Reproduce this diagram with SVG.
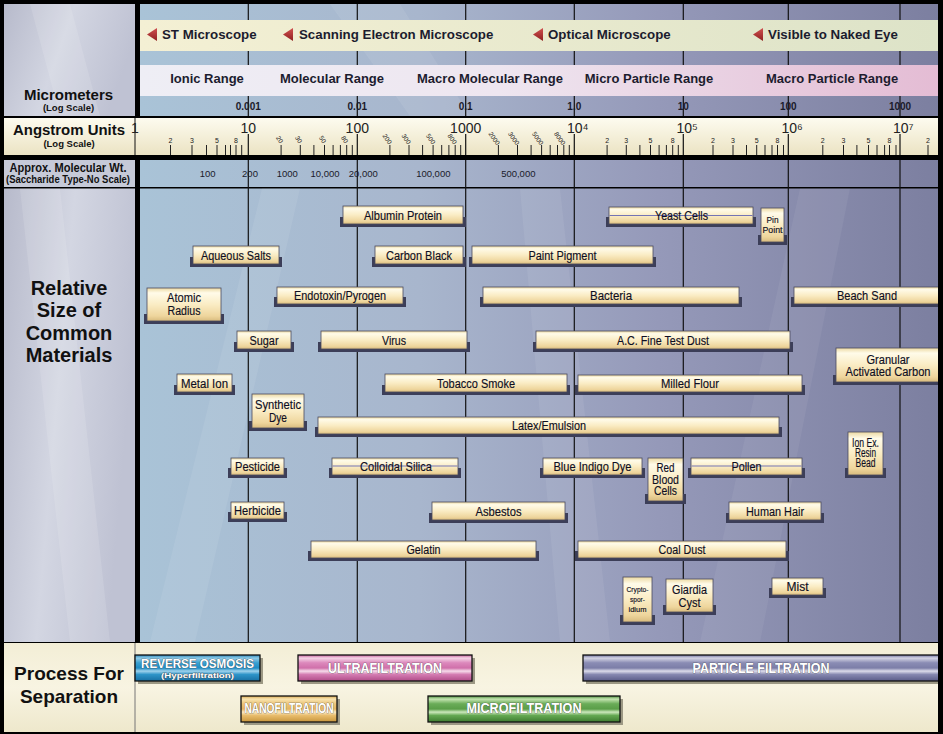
<svg xmlns="http://www.w3.org/2000/svg" width="943" height="734" viewBox="0 0 943 734">
<defs>
<linearGradient id="chartBg" gradientUnits="userSpaceOnUse" x1="140" y1="0" x2="938" y2="0">
<stop offset="0" stop-color="#a9c3d7"/><stop offset="0.35" stop-color="#a8b6cd"/><stop offset="0.65" stop-color="#9599b9"/><stop offset="1" stop-color="#7c7fa0"/>
</linearGradient>
<linearGradient id="leftBg" x1="0" y1="0" x2="1" y2="0.3">
<stop offset="0" stop-color="#b7bacb"/><stop offset="0.5" stop-color="#d3d6e2"/><stop offset="1" stop-color="#bfc2d3"/>
</linearGradient>
<linearGradient id="cream" x1="0" y1="0" x2="0" y2="1">
<stop offset="0" stop-color="#fdfbef"/><stop offset="1" stop-color="#ebe3c3"/>
</linearGradient>
<linearGradient id="bottomBg" x1="0" y1="0" x2="0" y2="1">
<stop offset="0" stop-color="#f3eed6"/><stop offset="0.5" stop-color="#f8f4e2"/><stop offset="1" stop-color="#eee8cc"/>
</linearGradient>
<linearGradient id="scopeBand" x1="0" y1="0" x2="1" y2="0">
<stop offset="0" stop-color="#f4f0d4"/><stop offset="1" stop-color="#dde3c8"/>
</linearGradient>
<linearGradient id="rangeBand" x1="0" y1="0" x2="1" y2="0">
<stop offset="0" stop-color="#eeeef5"/><stop offset="0.45" stop-color="#eee6f0"/><stop offset="1" stop-color="#e4bcd4"/>
</linearGradient>
<linearGradient id="box" x1="0" y1="0" x2="0" y2="1">
<stop offset="0" stop-color="#ecd9a2"/><stop offset="0.15" stop-color="#fffbe9"/><stop offset="0.5" stop-color="#faecc4"/><stop offset="0.85" stop-color="#eed59c"/><stop offset="1" stop-color="#d8bb7e"/>
</linearGradient>
<linearGradient id="tri" x1="0" y1="0" x2="0" y2="1">
<stop offset="0" stop-color="#d05050"/><stop offset="1" stop-color="#902020"/>
</linearGradient>
<linearGradient id="gRO" x1="0" y1="0" x2="0" y2="1">
<stop offset="0" stop-color="#2a86b8"/><stop offset="0.12" stop-color="#8fcbe8"/><stop offset="0.3" stop-color="#3aa0d0"/><stop offset="0.5" stop-color="#1e8cc4"/><stop offset="0.62" stop-color="#9fd2ec"/><stop offset="0.75" stop-color="#2e94c8"/><stop offset="1" stop-color="#1870a4"/>
</linearGradient>
<linearGradient id="gUF" x1="0" y1="0" x2="0" y2="1">
<stop offset="0" stop-color="#c8609c"/><stop offset="0.12" stop-color="#f4d4e6"/><stop offset="0.3" stop-color="#dc88bc"/><stop offset="0.5" stop-color="#d070aa"/><stop offset="0.62" stop-color="#f6dcea"/><stop offset="0.75" stop-color="#d47cb2"/><stop offset="1" stop-color="#b04c88"/>
</linearGradient>
<linearGradient id="gNF" x1="0" y1="0" x2="0" y2="1">
<stop offset="0" stop-color="#d8a850"/><stop offset="0.12" stop-color="#f8e4b0"/><stop offset="0.3" stop-color="#ecc478"/><stop offset="0.5" stop-color="#e4b460"/><stop offset="0.62" stop-color="#fae8c0"/><stop offset="0.75" stop-color="#e8bc6c"/><stop offset="1" stop-color="#c8963c"/>
</linearGradient>
<linearGradient id="gMF" x1="0" y1="0" x2="0" y2="1">
<stop offset="0" stop-color="#4a8c3a"/><stop offset="0.12" stop-color="#c4e4b0"/><stop offset="0.3" stop-color="#6aac58"/><stop offset="0.5" stop-color="#5a9e48"/><stop offset="0.62" stop-color="#cce8bc"/><stop offset="0.75" stop-color="#64a852"/><stop offset="1" stop-color="#3e7c30"/>
</linearGradient>
<linearGradient id="gPF" x1="0" y1="0" x2="0" y2="1">
<stop offset="0" stop-color="#7072a0"/><stop offset="0.12" stop-color="#d4d4e4"/><stop offset="0.3" stop-color="#8a8cb4"/><stop offset="0.5" stop-color="#7c7ea8"/><stop offset="0.62" stop-color="#dcdcea"/><stop offset="0.75" stop-color="#8688b0"/><stop offset="1" stop-color="#5a5c88"/>
</linearGradient>
</defs>
<style>
.sh{fill:#3c3e58}
.bx{fill:url(#box);stroke:#4a4a5e;stroke-width:0.8}
.bt{font-family:"Liberation Sans",Arial,sans-serif;font-size:12.5px;fill:#0e0e22;stroke:#0e0e22;stroke-width:0.15;text-anchor:middle}
.sm{font-size:9px}
.xs{font-size:7.5px}
.mid{stroke:#7474b4;stroke-width:1}
.dec{stroke:#111;stroke-width:1.2}
.tk{stroke:#222;stroke-width:1}
.tl{font-family:"Liberation Sans",sans-serif;font-size:7px;fill:#222;text-anchor:middle}
.tr{font-family:"Liberation Sans",sans-serif;font-size:6.5px;fill:#222;text-anchor:middle}
.al{font-family:"Liberation Sans",sans-serif;font-size:14px;fill:#222}
.um{font-family:"Liberation Sans",sans-serif;font-weight:bold;font-size:10px;text-anchor:middle;fill:#1a1a2a}
.mw{font-family:"Liberation Sans",sans-serif;font-size:9.5px;text-anchor:middle;fill:#1a1a2a}
.hd{font-family:"Liberation Sans",sans-serif;font-weight:bold;fill:#111;text-anchor:middle}
.sc{font-family:"Liberation Sans",sans-serif;font-weight:bold;font-size:13.3px;fill:#1c1c2e}
.rg{font-family:"Liberation Sans",sans-serif;font-weight:bold;font-size:13px;fill:#1c1c2e;text-anchor:middle}
.pb{stroke:#111;stroke-width:1.3}
.ps{fill:#9c9884}
.pt{font-family:"Liberation Sans",sans-serif;font-weight:bold;fill:#fff;stroke:#4a4a4a;stroke-width:0.7;paint-order:stroke;text-anchor:middle}
</style>

<rect x="0" y="0" width="943" height="734" fill="#000"/>
<g id="panels">
<rect x="4" y="4" width="131" height="112" fill="url(#leftBg)"/>
<rect x="140" y="4" width="798" height="112" fill="url(#chartBg)"/>
<rect x="4" y="118" width="934" height="37" fill="url(#cream)"/>
<line x1="135" y1="118" x2="135" y2="155" stroke="#111" stroke-width="1"/>
<rect x="4" y="160" width="131" height="27" fill="#c6cad8"/>
<rect x="140" y="160" width="798" height="27" fill="url(#chartBg)"/>
<rect x="4" y="188.5" width="131" height="453.5" fill="url(#leftBg)"/>
<rect x="140" y="188.5" width="798" height="453.5" fill="url(#chartBg)"/>
<rect x="4" y="643" width="934" height="89" fill="url(#bottomBg)"/>
<line x1="135" y1="643" x2="135" y2="732" stroke="#777" stroke-width="1"/>
<polygon points="150,642 195,642 300,188.5 262,188.5" fill="#fff" opacity="0.08"/>
<polygon points="560,642 610,642 560,188.5 520,188.5" fill="#fff" opacity="0.07"/>
<polygon points="700,642 760,642 850,188.5 800,188.5" fill="#fff" opacity="0.06"/>
<polygon points="330,4 400,4 470,116 410,116" fill="#fff" opacity="0.08"/>
<polygon points="20,188.5 60,188.5 110,642 70,642" fill="#fff" opacity="0.12"/>
<polygon points="30,4 70,4 100,116 60,116" fill="#fff" opacity="0.12"/>
</g>

<g id="grid" class="dec">
<line x1="248.3" y1="4" x2="248.3" y2="116"/><line x1="357.3" y1="4" x2="357.3" y2="116"/><line x1="465.7" y1="4" x2="465.7" y2="116"/><line x1="574.3" y1="4" x2="574.3" y2="116"/><line x1="683.3" y1="4" x2="683.3" y2="116"/><line x1="788.3" y1="4" x2="788.3" y2="116"/><line x1="900" y1="4" x2="900" y2="116"/>
<line x1="248.3" y1="160" x2="248.3" y2="642"/><line x1="357.3" y1="160" x2="357.3" y2="642"/><line x1="465.7" y1="160" x2="465.7" y2="642"/><line x1="574.3" y1="160" x2="574.3" y2="642"/><line x1="683.3" y1="160" x2="683.3" y2="642"/><line x1="788.3" y1="160" x2="788.3" y2="642"/><line x1="900" y1="160" x2="900" y2="642"/>
<line x1="248.3" y1="134" x2="248.3" y2="155"/><line x1="357.3" y1="134" x2="357.3" y2="155"/><line x1="465.7" y1="134" x2="465.7" y2="155"/><line x1="574.3" y1="134" x2="574.3" y2="155"/><line x1="683.3" y1="134" x2="683.3" y2="155"/><line x1="788.3" y1="134" x2="788.3" y2="155"/><line x1="900" y1="134" x2="900" y2="155"/>
</g>

<g id="microscopes">
<rect x="140" y="20" width="798" height="31" fill="url(#scopeBand)"/>
<polygon points="147,34.5 157,28 157,41" fill="url(#tri)"/>
<text class="sc" x="162" y="39.3">ST Microscope</text>
<polygon points="283,34.5 293,28 293,41" fill="url(#tri)"/>
<text class="sc" x="299" y="39.3">Scanning Electron Microscope</text>
<polygon points="533,34.5 543,28 543,41" fill="url(#tri)"/>
<text class="sc" x="548" y="39.3">Optical Microscope</text>
<polygon points="753,34.5 763,28 763,41" fill="url(#tri)"/>
<text class="sc" x="768" y="39.3">Visible to Naked Eye</text>
</g>

<g id="ranges">
<rect x="140" y="65" width="798" height="31" fill="url(#rangeBand)"/>
<text class="rg" x="207" y="83.3">Ionic Range</text>
<text class="rg" x="332" y="83.3">Molecular Range</text>
<text class="rg" x="490" y="83.3">Macro Molecular Range</text>
<text class="rg" x="649" y="83.3">Micro Particle Range</text>
<text class="rg" x="832" y="83.3">Macro Particle Range</text>
</g>

<g id="micrometers">
<text class="hd" x="68.5" y="100" font-size="15">Micrometers</text>
<text class="hd" x="68.5" y="110.5" font-size="9.5">(Log Scale)</text>
<text class="um" x="248.3" y="110">0.001</text>
<text class="um" x="357.3" y="110">0.01</text>
<text class="um" x="465.7" y="110">0.1</text>
<text class="um" x="574.3" y="110">1.0</text>
<text class="um" x="683.3" y="110">10</text>
<text class="um" x="788.3" y="110">100</text>
<text class="um" x="900" y="110">1000</text>
</g>

<g id="angstrom">
<text class="hd" x="69" y="135" font-size="14.5" textLength="112" lengthAdjust="spacingAndGlyphs">Angstrom Units</text>
<text class="hd" x="69" y="146.5" font-size="9.5">(Log Scale)</text>
<text class="al" x="135" y="133" text-anchor="middle">1</text>
<text class="al" x="248.3" y="133" text-anchor="middle">10</text>
<text class="al" x="357.3" y="133" text-anchor="middle">100</text>
<text class="al" x="465.7" y="133" text-anchor="middle">1000</text>
<text class="al" x="567" y="133">10⁴</text>
<text class="al" x="676.5" y="133">10⁵</text>
<text class="al" x="781.5" y="133">10⁶</text>
<text class="al" x="893" y="133">10⁷</text>
<g class="tk">
<line x1="170.5" y1="145" x2="170.5" y2="155"/><line x1="192" y1="145" x2="192" y2="155"/><line x1="206.5" y1="145" x2="206.5" y2="155"/><line x1="217" y1="145" x2="217" y2="155"/><line x1="225.5" y1="145" x2="225.5" y2="155"/><line x1="230.5" y1="145" x2="230.5" y2="155"/><line x1="236" y1="145" x2="236" y2="155"/><line x1="241.7" y1="145" x2="241.7" y2="155"/>
<line x1="281.1" y1="145" x2="281.1" y2="155"/><line x1="300.3" y1="145" x2="300.3" y2="155"/><line x1="313.9" y1="145" x2="313.9" y2="155"/><line x1="324.5" y1="145" x2="324.5" y2="155"/><line x1="333.1" y1="145" x2="333.1" y2="155"/><line x1="340.4" y1="145" x2="340.4" y2="155"/><line x1="346.7" y1="145" x2="346.7" y2="155"/><line x1="352.3" y1="145" x2="352.3" y2="155"/>
<line x1="389.9" y1="145" x2="389.9" y2="155"/><line x1="409" y1="145" x2="409" y2="155"/><line x1="422.6" y1="145" x2="422.6" y2="155"/><line x1="433.1" y1="145" x2="433.1" y2="155"/><line x1="441.7" y1="145" x2="441.7" y2="155"/><line x1="448.9" y1="145" x2="448.9" y2="155"/><line x1="455.2" y1="145" x2="455.2" y2="155"/><line x1="460.7" y1="145" x2="460.7" y2="155"/>
<line x1="498.4" y1="145" x2="498.4" y2="155"/><line x1="517.5" y1="145" x2="517.5" y2="155"/><line x1="531.1" y1="145" x2="531.1" y2="155"/><line x1="541.6" y1="145" x2="541.6" y2="155"/><line x1="550.2" y1="145" x2="550.2" y2="155"/><line x1="557.5" y1="145" x2="557.5" y2="155"/><line x1="563.8" y1="145" x2="563.8" y2="155"/><line x1="569.3" y1="145" x2="569.3" y2="155"/>
<line x1="607.1" y1="145" x2="607.1" y2="155"/><line x1="626.3" y1="145" x2="626.3" y2="155"/><line x1="639.9" y1="145" x2="639.9" y2="155"/><line x1="650.5" y1="145" x2="650.5" y2="155"/><line x1="659.1" y1="145" x2="659.1" y2="155"/><line x1="666.4" y1="145" x2="666.4" y2="155"/><line x1="672.7" y1="145" x2="672.7" y2="155"/><line x1="678.3" y1="145" x2="678.3" y2="155"/>
<line x1="713" y1="145" x2="713" y2="155"/><line x1="733" y1="145" x2="733" y2="155"/><line x1="746.5" y1="145" x2="746.5" y2="155"/><line x1="756.7" y1="145" x2="756.7" y2="155"/><line x1="765" y1="145" x2="765" y2="155"/><line x1="772" y1="145" x2="772" y2="155"/><line x1="777.5" y1="145" x2="777.5" y2="155"/><line x1="783.5" y1="145" x2="783.5" y2="155"/>
<line x1="822.8" y1="145" x2="822.8" y2="155"/><line x1="843.5" y1="145" x2="843.5" y2="155"/><line x1="856.9" y1="145" x2="856.9" y2="155"/><line x1="868.5" y1="145" x2="868.5" y2="155"/><line x1="877" y1="145" x2="877" y2="155"/><line x1="884.6" y1="145" x2="884.6" y2="155"/><line x1="889.5" y1="145" x2="889.5" y2="155"/><line x1="896" y1="145" x2="896" y2="155"/>
<line x1="928" y1="145" x2="928" y2="155"/>
</g>
<text class="tl" x="170.5" y="143">2</text><text class="tl" x="192" y="143">3</text><text class="tl" x="217" y="143">5</text><text class="tl" x="236" y="143">8</text>
<text class="tl" x="607.1" y="143">2</text><text class="tl" x="626.3" y="143">3</text><text class="tl" x="650.5" y="143">5</text><text class="tl" x="672.7" y="143">8</text>
<text class="tl" x="713" y="143">2</text><text class="tl" x="733" y="143">3</text><text class="tl" x="756.7" y="143">5</text><text class="tl" x="777.5" y="143">8</text>
<text class="tl" x="822.8" y="143">2</text><text class="tl" x="843.5" y="143">3</text><text class="tl" x="868.5" y="143">5</text><text class="tl" x="889.5" y="143">8</text>
<text class="tl" x="928" y="143">2</text>
<text class="tr" transform="translate(279.5,139.5) rotate(55)" y="2">20</text>
<text class="tr" transform="translate(298.5,139.5) rotate(55)" y="2">30</text>
<text class="tr" transform="translate(322.5,139.5) rotate(55)" y="2">50</text>
<text class="tr" transform="translate(344.5,139.5) rotate(55)" y="2">80</text>
<text class="tr" transform="translate(387,139) rotate(55)" y="2">200</text>
<text class="tr" transform="translate(406,139) rotate(55)" y="2">300</text>
<text class="tr" transform="translate(430.5,139) rotate(55)" y="2">500</text>
<text class="tr" transform="translate(452,139) rotate(55)" y="2">800</text>
<text class="tr" transform="translate(494,138.5) rotate(55)" y="2">2000</text>
<text class="tr" transform="translate(513.5,138.5) rotate(55)" y="2">3000</text>
<text class="tr" transform="translate(537.5,138.5) rotate(55)" y="2">5000</text>
<text class="tr" transform="translate(559.5,138.5) rotate(55)" y="2">8000</text>
</g>

<g id="molwt">
<text class="hd" x="68" y="171.5" font-size="12" textLength="117" lengthAdjust="spacingAndGlyphs">Approx. Molecular Wt.</text>
<text class="hd" x="68" y="182.5" font-size="10" textLength="124" lengthAdjust="spacingAndGlyphs">(Saccharide Type-No Scale)</text>
<text class="mw" x="207.7" y="177">100</text>
<text class="mw" x="250" y="177">200</text>
<text class="mw" x="287.3" y="177">1000</text>
<text class="mw" x="325" y="177">10,000</text>
<text class="mw" x="363.3" y="177">20,000</text>
<text class="mw" x="433.3" y="177">100,000</text>
<text class="mw" x="518.3" y="177">500,000</text>
</g>

<g id="titles">
<text class="hd" x="69" y="295" font-size="20">Relative</text>
<text class="hd" x="69" y="317" font-size="20">Size of</text>
<text class="hd" x="69" y="339.5" font-size="20">Common</text>
<text class="hd" x="69" y="362" font-size="20">Materials</text>
<text class="hd" x="69" y="680" font-size="19">Process For</text>
<text class="hd" x="69" y="703" font-size="19">Separation</text>
</g>

<g id="albumin-protein"><rect class="sh" x="340" y="217" width="126" height="10"/><rect class="bx" x="343" y="206" width="120" height="18"/><text class="bt" x="403" y="219.5" textLength="78" lengthAdjust="spacingAndGlyphs">Albumin Protein</text></g>
<g id="yeast-cells"><rect class="sh" x="606" y="217" width="150" height="10"/><rect class="bx" x="609" y="207" width="144" height="17"/><line class="mid" x1="609.5" y1="215.5" x2="752.5" y2="215.5"/><text class="bt" x="681.5" y="220" textLength="53" lengthAdjust="spacingAndGlyphs">Yeast Cells</text></g>
<g id="pin-point"><rect class="sh" x="758" y="235" width="29" height="10"/><rect class="bx" x="761" y="208" width="23" height="34"/><text class="bt sm" x="772.5" y="222.5" textLength="12" lengthAdjust="spacingAndGlyphs">Pin</text><text class="bt sm" x="772.5" y="232.5" textLength="20" lengthAdjust="spacingAndGlyphs">Point</text></g>
<g id="aqueous-salts"><rect class="sh" x="190" y="257" width="92" height="10"/><rect class="bx" x="193" y="246" width="86" height="18"/><text class="bt" x="236" y="259.5" textLength="70" lengthAdjust="spacingAndGlyphs">Aqueous Salts</text></g>
<g id="carbon-black"><rect class="sh" x="372" y="257" width="94" height="10"/><rect class="bx" x="375" y="246" width="88" height="18"/><text class="bt" x="419" y="259.5" textLength="66" lengthAdjust="spacingAndGlyphs">Carbon Black</text></g>
<g id="paint-pigment"><rect class="sh" x="469" y="257" width="187" height="10"/><rect class="bx" x="472" y="246" width="181" height="18"/><text class="bt" x="562.5" y="259.5" textLength="68" lengthAdjust="spacingAndGlyphs">Paint Pigment</text></g>
<g id="atomic-radius"><rect class="sh" x="144" y="314" width="80" height="10"/><rect class="bx" x="147" y="288" width="74" height="33"/><text class="bt" x="184" y="302" textLength="34" lengthAdjust="spacingAndGlyphs">Atomic</text><text class="bt" x="184" y="315" textLength="33" lengthAdjust="spacingAndGlyphs">Radius</text></g>
<g id="endotoxin"><rect class="sh" x="274" y="297" width="132" height="10"/><rect class="bx" x="277" y="287" width="126" height="17"/><text class="bt" x="340" y="300" textLength="92" lengthAdjust="spacingAndGlyphs">Endotoxin/Pyrogen</text></g>
<g id="bacteria"><rect class="sh" x="480" y="297" width="262" height="10"/><rect class="bx" x="483" y="287" width="256" height="17"/><text class="bt" x="611" y="300" textLength="42" lengthAdjust="spacingAndGlyphs">Bacteria</text></g>
<g id="beach-sand"><rect class="sh" x="791" y="297" width="160" height="10"/><rect class="bx" x="794" y="287" width="152" height="17"/><text class="bt" x="867" y="300" textLength="60" lengthAdjust="spacingAndGlyphs">Beach Sand</text></g>
<g id="sugar"><rect class="sh" x="234" y="342" width="60" height="10"/><rect class="bx" x="237" y="331" width="54" height="18"/><text class="bt" x="264" y="344.5" textLength="29" lengthAdjust="spacingAndGlyphs">Sugar</text></g>
<g id="virus"><rect class="sh" x="318" y="342" width="152" height="10"/><rect class="bx" x="321" y="331" width="146" height="18"/><text class="bt" x="394" y="344.5" textLength="24" lengthAdjust="spacingAndGlyphs">Virus</text></g>
<g id="ac-fine-test-dust"><rect class="sh" x="533" y="342" width="260" height="10"/><rect class="bx" x="536" y="331" width="254" height="18"/><text class="bt" x="663" y="344.5" textLength="92" lengthAdjust="spacingAndGlyphs">A.C. Fine Test Dust</text></g>
<g id="granular-activated-carbon"><rect class="sh" x="833" y="375" width="120" height="10"/><rect class="bx" x="836" y="348" width="112" height="34"/><text class="bt" x="888" y="363.5" textLength="43" lengthAdjust="spacingAndGlyphs">Granular</text><text class="bt" x="888" y="375.5" textLength="85" lengthAdjust="spacingAndGlyphs">Activated Carbon</text></g>
<g id="metal-ion"><rect class="sh" x="174" y="385" width="61" height="10"/><rect class="bx" x="177" y="374" width="55" height="18"/><text class="bt" x="204.5" y="387.5" textLength="47" lengthAdjust="spacingAndGlyphs">Metal Ion</text></g>
<g id="tobacco-smoke"><rect class="sh" x="382" y="385" width="188" height="10"/><rect class="bx" x="385" y="374" width="182" height="18"/><text class="bt" x="476" y="387.5" textLength="78" lengthAdjust="spacingAndGlyphs">Tobacco Smoke</text></g>
<g id="milled-flour"><rect class="sh" x="575" y="385" width="230" height="10"/><rect class="bx" x="578" y="375" width="224" height="17"/><text class="bt" x="690" y="388" textLength="58" lengthAdjust="spacingAndGlyphs">Milled Flour</text></g>
<g id="synthetic-dye"><rect class="sh" x="249" y="421" width="58" height="10"/><rect class="bx" x="252" y="394" width="52" height="34"/><text class="bt" x="278" y="408.5" textLength="46" lengthAdjust="spacingAndGlyphs">Synthetic</text><text class="bt" x="278" y="422" textLength="18" lengthAdjust="spacingAndGlyphs">Dye</text></g>
<g id="latex-emulsion"><rect class="sh" x="315" y="427" width="467" height="10"/><rect class="bx" x="318" y="417" width="461" height="17"/><text class="bt" x="549" y="430" textLength="74" lengthAdjust="spacingAndGlyphs">Latex/Emulsion</text></g>
<g id="ion-ex-resin-bead"><rect class="sh" x="845" y="468" width="41" height="10"/><rect class="bx" x="848" y="432" width="35" height="43"/><text class="bt" x="865.5" y="447" font-size="9.3" textLength="27" lengthAdjust="spacingAndGlyphs">Ion Ex.</text><text class="bt" x="865.5" y="457" font-size="9.3" textLength="21" lengthAdjust="spacingAndGlyphs">Resin</text><text class="bt" x="865.5" y="467" font-size="9.3" textLength="20" lengthAdjust="spacingAndGlyphs">Bead</text></g>
<g id="pesticide"><rect class="sh" x="228" y="468" width="59" height="10"/><rect class="bx" x="231" y="458" width="53" height="17"/><text class="bt" x="257.5" y="471" textLength="45" lengthAdjust="spacingAndGlyphs">Pesticide</text></g>
<g id="colloidal-silica"><rect class="sh" x="329" y="468" width="132" height="10"/><rect class="bx" x="332" y="458" width="126" height="17"/><line class="mid" x1="332.5" y1="466" x2="457.5" y2="466"/><text class="bt" x="396" y="471" textLength="72" lengthAdjust="spacingAndGlyphs">Colloidal Silica</text></g>
<g id="blue-indigo-dye"><rect class="sh" x="540" y="468" width="105" height="10"/><rect class="bx" x="543" y="458" width="99" height="17"/><text class="bt" x="592.5" y="471" textLength="78" lengthAdjust="spacingAndGlyphs">Blue Indigo Dye</text></g>
<g id="red-blood-cells"><rect class="sh" x="645" y="494" width="41" height="10"/><rect class="bx" x="648" y="458" width="35" height="43"/><text class="bt" x="665.5" y="472" font-size="11.3" textLength="18" lengthAdjust="spacingAndGlyphs">Red</text><text class="bt" x="665.5" y="483.5" font-size="11.3" textLength="27" lengthAdjust="spacingAndGlyphs">Blood</text><text class="bt" x="665.5" y="495" font-size="11.3" textLength="23" lengthAdjust="spacingAndGlyphs">Cells</text></g>
<g id="pollen"><rect class="sh" x="688" y="468" width="117" height="10"/><rect class="bx" x="691" y="458" width="111" height="17"/><line class="mid" x1="691.5" y1="466" x2="801.5" y2="466"/><text class="bt" x="746.5" y="471" textLength="30" lengthAdjust="spacingAndGlyphs">Pollen</text></g>
<g id="herbicide"><rect class="sh" x="228" y="512" width="59" height="10"/><rect class="bx" x="231" y="502" width="53" height="17"/><text class="bt" x="257.5" y="515" textLength="47" lengthAdjust="spacingAndGlyphs">Herbicide</text></g>
<g id="asbestos"><rect class="sh" x="429" y="513" width="139" height="10"/><rect class="bx" x="432" y="502" width="133" height="18"/><text class="bt" x="498.5" y="515.5" textLength="46" lengthAdjust="spacingAndGlyphs">Asbestos</text></g>
<g id="human-hair"><rect class="sh" x="726" y="513" width="98" height="10"/><rect class="bx" x="729" y="502" width="92" height="18"/><text class="bt" x="775" y="515.5" textLength="58" lengthAdjust="spacingAndGlyphs">Human Hair</text></g>
<g id="gelatin"><rect class="sh" x="308" y="551" width="231" height="10"/><rect class="bx" x="311" y="541" width="225" height="17"/><text class="bt" x="423.5" y="554" textLength="34" lengthAdjust="spacingAndGlyphs">Gelatin</text></g>
<g id="coal-dust"><rect class="sh" x="575" y="551" width="214" height="10"/><rect class="bx" x="578" y="541" width="208" height="17"/><text class="bt" x="682" y="554" textLength="47" lengthAdjust="spacingAndGlyphs">Coal Dust</text></g>
<g id="cryptosporidium"><rect class="sh" x="620" y="615" width="35" height="10"/><rect class="bx" x="623" y="577" width="29" height="45"/><text class="bt xs" x="637.5" y="592" textLength="22" lengthAdjust="spacingAndGlyphs">Crypto-</text><text class="bt xs" x="637.5" y="602" textLength="15" lengthAdjust="spacingAndGlyphs">spor-</text><text class="bt xs" x="637.5" y="612" textLength="18" lengthAdjust="spacingAndGlyphs">idium</text></g>
<g id="giardia-cyst"><rect class="sh" x="663" y="605" width="53" height="10"/><rect class="bx" x="666" y="579" width="47" height="33"/><text class="bt" x="689.5" y="594" textLength="35" lengthAdjust="spacingAndGlyphs">Giardia</text><text class="bt" x="689.5" y="606.5" textLength="22" lengthAdjust="spacingAndGlyphs">Cyst</text></g>
<g id="mist"><rect class="sh" x="769" y="588" width="57" height="10"/><rect class="bx" x="772" y="578" width="51" height="17"/><text class="bt" x="797.5" y="591" textLength="22" lengthAdjust="spacingAndGlyphs">Mist</text></g>

<g id="reverse-osmosis"><rect class="ps" x="138" y="658" width="125" height="26"/><rect class="pb" x="135" y="655" width="125" height="26" fill="url(#gRO)"/><text class="pt" x="197.5" y="667.5" font-size="13" textLength="113" lengthAdjust="spacingAndGlyphs">REVERSE OSMOSIS</text><text class="pt" x="197.5" y="677.5" font-size="8" textLength="73" lengthAdjust="spacingAndGlyphs">(Hyperfiltration)</text></g>
<g id="ultrafiltration"><rect class="ps" x="301" y="658" width="174" height="26"/><rect class="pb" x="298" y="655" width="174" height="26" fill="url(#gUF)"/><text class="pt" x="385" y="673.3" font-size="15" textLength="114" lengthAdjust="spacingAndGlyphs">ULTRAFILTRATION</text></g>
<g id="nanofiltration"><rect class="ps" x="244" y="699" width="96" height="26"/><rect class="pb" x="241" y="696" width="96" height="26" fill="url(#gNF)"/><text class="pt" x="289" y="713.3" font-size="14" textLength="89" lengthAdjust="spacingAndGlyphs">NANOFILTRATION</text></g>
<g id="microfiltration"><rect class="ps" x="431" y="699" width="192" height="26"/><rect class="pb" x="428" y="696" width="192" height="26" fill="url(#gMF)"/><text class="pt" x="524" y="713.3" font-size="15" textLength="115" lengthAdjust="spacingAndGlyphs">MICROFILTRATION</text></g>
<g id="particle-filtration"><rect class="ps" x="586" y="658" width="360" height="26"/><rect class="pb" x="583" y="655" width="362" height="26" fill="url(#gPF)"/><text class="pt" x="761" y="672.7" font-size="15" textLength="137" lengthAdjust="spacingAndGlyphs">PARTICLE FILTRATION</text></g>

<rect x="938" y="0" width="5" height="734" fill="#000"/>
</svg>
